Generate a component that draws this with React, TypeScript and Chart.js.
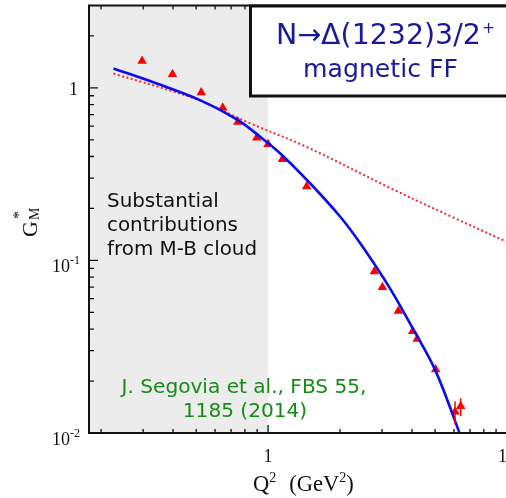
import React, { useEffect, useRef } from "react";
import { Chart, registerables } from "chart.js";
Chart.register(...registerables);

// ---- data ----
const dataQ2 = [0.297, 0.398, 0.525, 0.646, 0.747, 0.897, 1.0, 1.148, 1.45, 2.785, 3.01, 3.51, 4.03, 4.21, 5.03, 6.06, 6.4];
const dataGM = [1.43, 1.2, 0.941, 0.766, 0.633, 0.514, 0.471, 0.386, 0.268, 0.0864, 0.0698, 0.051, 0.0389, 0.0351, 0.0233, 0.0133, 0.0143];
const errLow = [null, null, null, null, null, null, null, null, null, null, null, null, null, null, null, 0.0112, 0.01254];
const errHigh = [null, null, null, null, null, null, null, null, null, null, null, null, null, null, null, 0.0153, 0.0159];

const blueQ2 = [0.2253, 0.342, 0.519, 0.74, 0.926, 1.122, 1.498, 2.001, 2.426, 3.218, 4.055, 4.997, 6.32, 6.48];
const blueGM = [1.295, 1.06, 0.849, 0.657, 0.521, 0.418, 0.28, 0.1796, 0.126, 0.0698, 0.0398, 0.0233, 0.01005, 0.00895];

const dotQ2 = [0.2253, 0.503, 0.841, 1.452, 3.24, 5.77, 10];
const dotGM = [1.211, 0.857, 0.623, 0.454, 0.263, 0.181, 0.128];

const xMajorTicks = [1, 10];
const xMajorLabels = ["1", "10"];
const yMajorTicks = [1, 0.1, 0.01];
const yMajorLabels = [["1", ""], ["10", "-1"], ["10", "-2"]];
const xMin = 0.178, xMax = 10, yMin = 0.01, yMax = 3.0;
const shadeMaxQ2 = 1;

const noteLines = ["Substantial", "contributions", "from M-B cloud"];
const refLines = ["J. Segovia et al., FBS 55,", "1185 (2014)"];
const boxLine1 = "N\u2192\u0394(1232)3/2";
const boxSup = "+";
const boxLine2 = "magnetic FF";

const SERIF = "'Liberation Serif', 'DejaVu Serif', serif";
const HAND = "'DejaVu Sans', sans-serif";

function minorTicks(lo: number, hi: number) {
  const out: number[] = [];
  for (let e = -3; e <= 2; e++) {
    const d = Math.pow(10, e);
    for (let m = 2; m <= 9; m++) {
      const v = m * d;
      if (v > lo && v < hi) out.push(v);
    }
  }
  return out;
}

function fitSize(ctx: CanvasRenderingContext2D, text: string, family: string, w: number) {
  ctx.font = `100px ${family}`;
  return (100 * w) / ctx.measureText(text).width;
}

const decor = {
  id: "decor",
  beforeDatasetsDraw(chart: any) {
    const { ctx, chartArea: a, scales } = chart;
    const xs = scales.x;
    ctx.save();
    ctx.fillStyle = "rgb(236,236,236)";
    const xr = xs.getPixelForValue(shadeMaxQ2);
    ctx.fillRect(a.left, a.top, xr - a.left, a.bottom - a.top);
    ctx.restore();
  },
  afterDatasetsDraw(chart: any) {
    const { ctx, chartArea: a, scales } = chart;
    const xs = scales.x, ys = scales.y;
    ctx.save();
    // error bars
    ctx.strokeStyle = "rgb(255,0,0)";
    ctx.lineWidth = 1.5;
    for (let i = 0; i < dataQ2.length; i++) {
      if (errLow[i] == null || errHigh[i] == null) continue;
      const px = xs.getPixelForValue(dataQ2[i]);
      ctx.beginPath();
      ctx.moveTo(px, ys.getPixelForValue(errLow[i] as number));
      ctx.lineTo(px, ys.getPixelForValue(errHigh[i] as number));
      ctx.stroke();
    }
    // frame
    ctx.strokeStyle = "#111";
    ctx.lineWidth = 2;
    ctx.strokeRect(a.left, a.top, a.right - a.left, a.bottom - a.top);
    // ticks (bottom, top, left)
    ctx.lineWidth = 1.3;
    const xmin = minorTicks(xMin, xMax);
    const ymin = minorTicks(yMin, yMax);
    ctx.beginPath();
    for (const v of xmin) {
      const p = xs.getPixelForValue(v);
      ctx.moveTo(p, a.bottom); ctx.lineTo(p, a.bottom - 4);
      ctx.moveTo(p, a.top); ctx.lineTo(p, a.top + 4);
    }
    for (const v of xMajorTicks) {
      const p = xs.getPixelForValue(v);
      ctx.moveTo(p, a.bottom); ctx.lineTo(p, a.bottom - 8);
      ctx.moveTo(p, a.top); ctx.lineTo(p, a.top + 8);
    }
    for (const v of ymin) {
      const p = ys.getPixelForValue(v);
      ctx.moveTo(a.left, p); ctx.lineTo(a.left + 5, p);
    }
    for (const v of yMajorTicks) {
      const p = ys.getPixelForValue(v);
      ctx.moveTo(a.left, p); ctx.lineTo(a.left + 9, p);
    }
    ctx.stroke();

    // tick labels
    ctx.fillStyle = "#111";
    ctx.textBaseline = "alphabetic";
    ctx.textAlign = "center";
    ctx.font = `18px ${SERIF}`;
    xMajorTicks.forEach((v, i) => {
      ctx.fillText(xMajorLabels[i], xs.getPixelForValue(v), a.bottom + 29);
    });
    yMajorTicks.forEach((v, i) => {
      const p = ys.getPixelForValue(v);
      const [base, sup] = yMajorLabels[i];
      ctx.textAlign = "left";
      if (!sup) {
        ctx.font = `18px ${SERIF}`;
        const w = ctx.measureText(base).width;
        ctx.fillText(base, 78 - w, p + 7);
      } else {
        ctx.font = `12px ${SERIF}`;
        const ws = ctx.measureText(sup).width;
        ctx.font = `18px ${SERIF}`;
        const wb = ctx.measureText(base).width;
        const x0 = 80 - ws - wb;
        ctx.fillText(base, x0, p + 12);
        ctx.font = `12px ${SERIF}`;
        ctx.fillText(sup, x0 + wb, p + 4);
      }
    });

    // x title
    ctx.textAlign = "left";
    let x = 253;
    const by = 491;
    const parts: [string, number, number, number][] = [["Q", 22.5, 0, 0], ["2", 14, -9, 0], ["(GeV", 22.5, 0, 13], ["2", 14, -9, 0], [")", 22.5, 0, 0]];
    for (const [t, s, dy, gap] of parts) {
      x += gap;
      ctx.font = `${s}px ${SERIF}`;
      ctx.fillText(t, x, by + dy);
      x += ctx.measureText(t).width;
    }
    // y title (rotated)
    ctx.save();
    ctx.translate(37, 237);
    ctx.rotate(-Math.PI / 2);
    ctx.font = `22px ${SERIF}`;
    ctx.fillText("G", 0, 0);
    const gw = ctx.measureText("G").width;
    ctx.font = `14px ${SERIF}`;
    ctx.fillText("M", gw + 1, 2);
    ctx.font = `16px ${SERIF}`;
    ctx.fillText("*", gw + 2, -13);
    ctx.restore();

    // annotation: M-B cloud
    ctx.fillStyle = "#111";
    const ns = fitSize(ctx, noteLines[1], HAND, 131);
    ctx.font = `${ns}px ${HAND}`;
    noteLines.forEach((t, i) => ctx.fillText(t, 107, 207 + i * 24));

    // reference (green)
    ctx.fillStyle = "rgb(20,140,20)";
    ctx.textAlign = "center";
    const rs = fitSize(ctx, refLines[0], HAND, 245);
    ctx.font = `${rs}px ${HAND}`;
    ctx.fillText(refLines[0], 244, 393);
    ctx.fillText(refLines[1], 245, 417);

    // title box
    ctx.fillStyle = "#fff";
    ctx.fillRect(250.5, 6, 270, 90);
    ctx.strokeStyle = "#111";
    ctx.lineWidth = 3;
    ctx.strokeRect(250.5, 6, 270, 90);
    ctx.fillStyle = "rgb(25,25,155)";
    ctx.textAlign = "left";
    const bs = fitSize(ctx, boxLine1, HAND, 205);
    ctx.font = `${bs}px ${HAND}`;
    ctx.fillText(boxLine1, 276, 44);
    const w1 = ctx.measureText(boxLine1).width;
    ctx.font = `${bs * 0.55}px ${HAND}`;
    ctx.fillText(boxSup, 276 + w1 + 1, 33);
    const bs2 = fitSize(ctx, boxLine2, HAND, 155);
    ctx.font = `${bs2}px ${HAND}`;
    ctx.textAlign = "center";
    ctx.fillText(boxLine2, 380.5, 77);
    ctx.restore();
  },
};

export default function App() {
  const ref = useRef<HTMLCanvasElement | null>(null);
  useEffect(() => {
    if (!ref.current) return;
    const pts = dataQ2.map((q, i) => ({ x: q, y: dataGM[i] }));
    const blue = blueQ2.map((q, i) => ({ x: q, y: blueGM[i] }));
    const dot = dotQ2.map((q, i) => ({ x: q, y: dotGM[i] }));
    const chart = new Chart(ref.current, {
      type: "scatter",
      data: {
        datasets: [
          {
            data: blue,
            showLine: true,
            borderColor: "rgb(10,10,245)",
            borderWidth: 2.6,
            pointRadius: 0,
            tension: 0.35,
            order: 0,
          } as any,
          {
            data: pts,
            pointStyle: "triangle",
            pointRadius: 5.5,
            backgroundColor: "rgb(255,0,0)",
            borderColor: "rgb(255,0,0)",
            borderWidth: 0,
            order: 1,
          },
          {
            data: dot,
            showLine: true,
            borderColor: "rgb(255,40,40)",
            borderWidth: 2,
            borderDash: [2, 2.5],
            pointRadius: 0,
            tension: 0.35,
            order: 2,
          } as any,
        ],
      },
      options: {
        animation: false,
        responsive: false,
        devicePixelRatio: 1,
        layout: { padding: { top: 5, right: 13, left: 0, bottom: 0 } },
        plugins: { legend: { display: false }, tooltip: { enabled: false } },
        scales: {
          x: {
            type: "logarithmic",
            min: xMin,
            max: xMax,
            grid: { display: false },
            border: { display: false },
            ticks: { display: false },
            afterFit: (s: any) => { s.height = 65; },
          },
          y: {
            type: "logarithmic",
            min: yMin,
            max: yMax,
            grid: { display: false },
            border: { display: false },
            ticks: { display: false },
            afterFit: (s: any) => { s.width = 89; },
          },
        },
      },
      plugins: [decor],
    });
    return () => chart.destroy();
  }, []);
  return (
    <div style={{ position: "fixed", left: 0, top: 0, width: 506, height: 498, overflow: "hidden", background: "#fff" }}>
      <canvas ref={ref} width={520} height={498} style={{ display: "block" }} />
    </div>
  );
}
